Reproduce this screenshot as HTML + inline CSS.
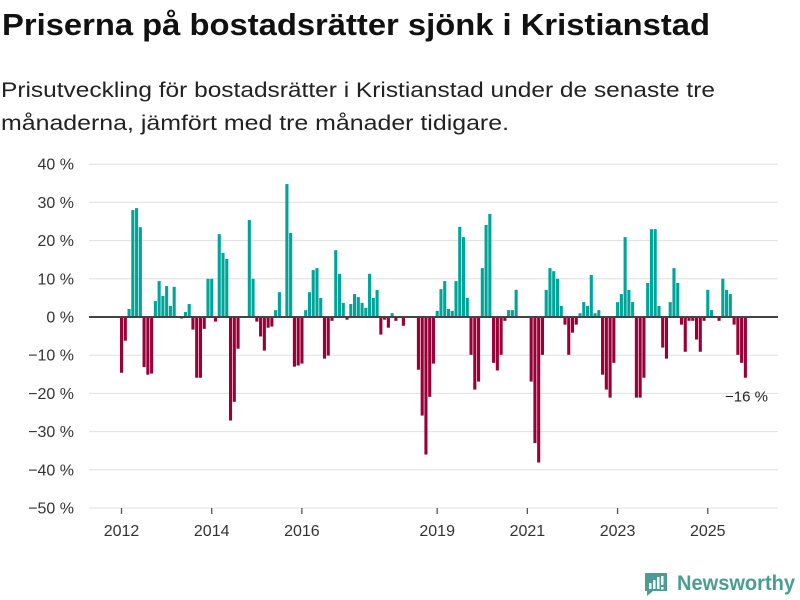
<!DOCTYPE html>
<html><head><meta charset="utf-8"><style>
html,body{margin:0;padding:0;background:#fff;width:800px;height:600px;overflow:hidden}
svg{display:block;font-family:"Liberation Sans",sans-serif}
</style></head><body>
<svg id="chart" width="800" height="600">
<text x="2" y="35" font-size="31" font-weight="bold" fill="#111" textLength="708" lengthAdjust="spacingAndGlyphs">Priserna på bostadsrätter sjönk i Kristianstad</text>
<text x="1" y="97" font-size="21" fill="#222" textLength="714" lengthAdjust="spacingAndGlyphs">Prisutveckling för bostadsrätter i Kristianstad under de senaste tre</text>
<text x="1" y="130" font-size="21" fill="#222" textLength="508" lengthAdjust="spacingAndGlyphs">månaderna, jämfört med tre månader tidigare.</text>
<g id="grid"></g><g id="bars"></g><g id="axes"></g>
<g>
<path d="M645 573 h22 v18 h-14 l-6 5 v-5 h-2 z" fill="#4a9d92"/>
<rect x="649" y="583" width="2.5" height="6" fill="#fff"/><rect x="653" y="580" width="2.5" height="9" fill="#fff"/><rect x="657" y="577" width="2.5" height="12" fill="#fff"/><rect x="661" y="576" width="2.5" height="9" fill="#fff"/><rect x="661" y="587" width="2.5" height="2.5" fill="#fff"/>
<text x="677" y="590" font-size="21" font-weight="bold" fill="#4a9d92" textLength="118" lengthAdjust="spacingAndGlyphs">Newsworthy</text>
</g>
</svg>
<script>
const values = [-14.6,-6.2,2.1,28,28.5,23.5,-13.1,-15.1,-14.8,4.2,9.4,5.5,8.1,2.9,7.9,0,-0.4,1.3,3.4,-3.3,-15.9,-15.9,-3.1,10,
10,-1.2,21.7,16.8,15.2,-27.1,-22.2,-8.3,0,0,25.4,10,-1.2,-5.1,-8.8,-2.8,-2.5,1.8,6.5,0,34.8,22,-13,-12.7,
-12.2,1.8,6.5,12.3,12.8,5,-10.9,-10.1,-1,17.5,11.3,3.7,-0.7,3.4,6,5.2,3.7,2.4,11.3,5,7.1,-4.6,-0.7,-2.8,
1,-1,0,-2.3,null,null,null,-13.8,-25.8,-36,-20.9,-12.2,1.6,7.3,9.4,2.1,1.6,9.4,23.6,20.9,5,-9.9,-19,-16.9,
12.8,24.1,27,-12,-14,-9.9,-1,1.8,1.8,7.1,0,0,0,-16.9,-33,-38.1,-9.9,7.1,12.8,12,10,2.9,-2,-9.9,-4.1,-2,
1,3.9,2.9,11,1,1.8,-15.1,-19,-21.1,-12,3.9,6,20.9,7.1,3.9,-21.1,-21.1,-15.9,8.9,23,23,2.9,-8,-10.9,3.9,12.8,
8.9,-2,-9.1,-1,-1,-5.9,-9.1,-1,7.1,1.8,0,-1,10,7.1,6,-2,-9.9,-12,-15.9];
const yTicks = [40,30,20,10,0,-10,-20,-30,-40,-50];
const xTickLabels = ["2012","2014","2016","2019","2021","2023","2025"];
const xTickIndex = [0,24,48,84,108,132,156];
const endLabel = "\u221216 %";

const NS="http://www.w3.org/2000/svg";
const yS = v => 317 - v*3.82;
const xS = i => 120 + i*3.758;
function mk(tag, attrs, parent){const e=document.createElementNS(NS,tag);for(const k in attrs)e.setAttribute(k,attrs[k]);parent.appendChild(e);return e;}
const grid=document.getElementById('grid'), bars=document.getElementById('bars'), axes=document.getElementById('axes');
yTicks.forEach(t=>{
  if(t!==0){const l=mk('line',{x1:89,x2:778,y1:yS(t),y2:yS(t),stroke:'#e0e0e0','stroke-width':1},grid);
  
  }
  const tx=mk('text',{x:74,y:yS(t)+5.5,'font-size':16,fill:'#333','text-anchor':'end'},axes);
  tx.textContent=(t<0?'\u2212'+(-t):t)+' %';
  
  
});
values.forEach((v,i)=>{
  if(v===null||v===0)return;
  const y0=yS(0), y1=yS(v);
  const r=mk('rect',{x:xS(i),y:Math.min(y0,y1),width:3.1,height:Math.abs(y1-y0),fill:v>0?'#00a59a':'#990038'},bars);
  
  
});
const z=mk('line',{x1:89,x2:778,y1:yS(0),y2:yS(0),stroke:'#444','stroke-width':2},axes);


xTickLabels.forEach((lab,k)=>{
  const x=xS(xTickIndex[k])+1.5;
  const tk=mk('line',{x1:x,x2:x,y1:508,y2:514,stroke:'#555','stroke-width':1.3},axes);
  
  
  const t=mk('text',{x:x,y:536,'font-size':16,fill:'#333','text-anchor':'middle'},axes);
  t.textContent=lab;
  
  
});
const last=values.length-1;
const el=mk('text',{x:768,y:yS(values[last])+24,'font-size':15,fill:'#222','text-anchor':'end'},axes);
el.textContent=endLabel;


</script>
</body></html>
